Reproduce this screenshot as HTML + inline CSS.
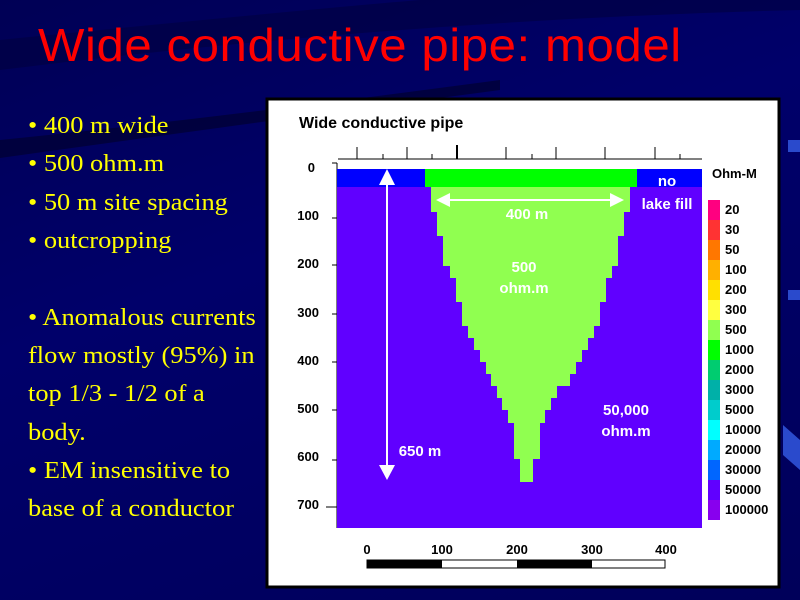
<!DOCTYPE html>
<html><head><meta charset="utf-8"><style>
html,body{margin:0;padding:0}
body{width:800px;height:600px;position:relative;overflow:hidden;background:linear-gradient(160deg,#000055 0%,#00006a 40%,#00005a 100%);font-family:"Liberation Sans",sans-serif}
.t{position:absolute;left:38px;top:18px;color:#ff0000;font-size:46px;white-space:nowrap;letter-spacing:0.5px;transform:scaleX(1.07);transform-origin:left}
.b{position:absolute;left:28px;color:#ffff00;font-family:"Liberation Serif",serif;font-size:24px;white-space:nowrap;transform:scaleX(1.1);transform-origin:left}
</style></head><body>
<svg width="800" height="600" style="position:absolute;left:0;top:0">
<path d="M0 40 Q300 10 420 0 L800 0 L800 10 Q400 20 0 70Z" fill="#000040" opacity="0.6"/>
<path d="M0 140 Q200 120 500 80 L500 90 Q200 130 0 158Z" fill="#000030" opacity="0.7"/>
<rect x="788" y="140" width="12" height="12" fill="#2a4acc"/>
<rect x="788" y="290" width="12" height="10" fill="#2a4acc"/>
<path d="M783 425 L800 440 L800 470 L783 455Z" fill="#2a4acc"/>
</svg>
<div class="t">Wide conductive pipe: model</div>
<div class="b" style="top:113px">• 400 m wide</div>
<div class="b" style="top:151px">• 500 ohm.m</div>
<div class="b" style="top:190px">• 50 m site spacing</div>
<div class="b" style="top:228px">• outcropping</div>
<div class="b" style="top:305px">• Anomalous currents</div>
<div class="b" style="top:343px">flow mostly (95%) in</div>
<div class="b" style="top:381px">top 1/3 - 1/2 of a</div>
<div class="b" style="top:420px">body.</div>
<div class="b" style="top:458px">• EM insensitive to</div>
<div class="b" style="top:496px">base of a conductor</div>
<svg width="800" height="600" style="position:absolute;left:0;top:0" font-family="Liberation Sans, sans-serif" font-weight="bold">
<rect x="267" y="99" width="512" height="488" fill="#fff" stroke="#000" stroke-width="3"/>
<text x="299" y="128" font-size="16" fill="#000">Wide conductive pipe</text>
<line x1="338" y1="159" x2="702" y2="159" stroke="#000"/>
<g stroke="#000" stroke-width="1">
<line x1="357" y1="147" x2="357" y2="159"/><line x1="383" y1="154" x2="383" y2="159"/><line x1="407" y1="147" x2="407" y2="159"/><line x1="432" y1="154" x2="432" y2="159"/><line x1="457" y1="145" x2="457" y2="159" stroke-width="2"/><line x1="506" y1="147" x2="506" y2="159"/><line x1="532" y1="154" x2="532" y2="159"/><line x1="556" y1="147" x2="556" y2="159"/><line x1="605" y1="147" x2="605" y2="159"/><line x1="655" y1="147" x2="655" y2="159"/><line x1="680" y1="154" x2="680" y2="159"/>
</g>
<line x1="337" y1="163" x2="337" y2="528" stroke="#000"/>
<g stroke="#000">
<line x1="332" y1="163" x2="337" y2="163"/><line x1="332" y1="218" x2="337" y2="218"/><line x1="332" y1="265" x2="337" y2="265"/><line x1="332" y1="314" x2="337" y2="314"/><line x1="332" y1="362" x2="337" y2="362"/><line x1="332" y1="410" x2="337" y2="410"/><line x1="332" y1="460" x2="337" y2="460"/><line x1="326" y1="507" x2="337" y2="507"/>
</g>
<g font-size="13" fill="#000" text-anchor="end">
<text x="315" y="172">0</text><text x="319" y="220">100</text><text x="319" y="268">200</text><text x="319" y="317">300</text><text x="319" y="365">400</text><text x="319" y="413">500</text><text x="319" y="461">600</text><text x="319" y="509">700</text>
</g>
<rect x="337" y="169" width="365" height="359" fill="#6000ff"/>
<rect x="337" y="169" width="88" height="18" fill="#0000ff"/>
<rect x="425" y="169" width="212" height="18" fill="#00ff00"/>
<rect x="637" y="169" width="65" height="18" fill="#0000ff"/>
<g fill="#90ff50">
<rect x="431" y="187" width="199" height="25"/><rect x="437" y="211" width="187" height="25"/><rect x="443" y="235" width="175" height="31"/><rect x="450" y="265" width="162" height="13"/><rect x="456" y="277" width="150" height="25"/><rect x="462" y="301" width="138" height="25"/><rect x="468" y="325" width="126" height="13"/><rect x="474" y="337" width="114" height="13"/><rect x="480" y="349" width="102" height="13"/><rect x="486" y="361" width="90" height="13"/><rect x="491" y="373" width="79" height="13"/><rect x="497" y="385" width="60" height="13"/><rect x="502" y="397" width="49" height="13"/><rect x="508" y="409" width="37" height="14"/><rect x="514" y="422" width="26" height="37"/><rect x="520" y="458" width="13" height="24"/>
</g>
<line x1="387" y1="180" x2="387" y2="470" stroke="#fff" stroke-width="2"/>
<polygon points="387,169 379,185 395,185" fill="#fff"/>
<polygon points="387,480 379,465 395,465" fill="#fff"/>
<line x1="445" y1="200" x2="615" y2="200" stroke="#fff" stroke-width="2"/>
<polygon points="436,200 450,193 450,207" fill="#fff"/><polygon points="624,200 610,193 610,207" fill="#fff"/>
<g fill="#fff" font-size="15" text-anchor="middle">
<text x="527" y="219">400 m</text><text x="524" y="272">500</text><text x="524" y="293">ohm.m</text>
<text x="626" y="415">50,000</text><text x="626" y="436">ohm.m</text>
<text x="420" y="456">650 m</text>
<text x="667" y="186">no</text><text x="667" y="209">lake fill</text>
</g>
<text x="712" y="178" font-size="13" fill="#000">Ohm-M</text>
<g>
<rect x="708" y="200" width="12" height="20" fill="#ff0080"/><rect x="708" y="220" width="12" height="20" fill="#ff3333"/><rect x="708" y="240" width="12" height="20" fill="#ff7700"/><rect x="708" y="260" width="12" height="20" fill="#ffb000"/><rect x="708" y="280" width="12" height="20" fill="#ffe000"/><rect x="708" y="300" width="12" height="20" fill="#ffff40"/><rect x="708" y="320" width="12" height="20" fill="#90ff50"/><rect x="708" y="340" width="12" height="20" fill="#00ff00"/><rect x="708" y="360" width="12" height="20" fill="#00cc70"/><rect x="708" y="380" width="12" height="20" fill="#00b0a8"/><rect x="708" y="400" width="12" height="20" fill="#00cccc"/><rect x="708" y="420" width="12" height="20" fill="#00ffff"/><rect x="708" y="440" width="12" height="20" fill="#00aaff"/><rect x="708" y="460" width="12" height="20" fill="#0066ff"/><rect x="708" y="480" width="12" height="20" fill="#6000ff"/><rect x="708" y="500" width="12" height="20" fill="#8800ee"/>
</g>
<g font-size="13" fill="#000">
<text x="725" y="214">20</text><text x="725" y="234">30</text><text x="725" y="254">50</text><text x="725" y="274">100</text><text x="725" y="294">200</text><text x="725" y="314">300</text><text x="725" y="334">500</text><text x="725" y="354">1000</text><text x="725" y="374">2000</text><text x="725" y="394">3000</text><text x="725" y="414">5000</text><text x="725" y="434">10000</text><text x="725" y="454">20000</text><text x="725" y="474">30000</text><text x="725" y="494">50000</text><text x="725" y="514">100000</text>
</g>
<g font-size="13" fill="#000" text-anchor="middle">
<text x="367" y="554">0</text><text x="442" y="554">100</text><text x="517" y="554">200</text><text x="592" y="554">300</text><text x="666" y="554">400</text>
</g>
<rect x="367" y="560" width="298" height="8" fill="#fff" stroke="#000"/>
<rect x="367" y="560" width="75" height="8" fill="#000"/>
<rect x="517" y="560" width="75" height="8" fill="#000"/>
</svg>
</body></html>
